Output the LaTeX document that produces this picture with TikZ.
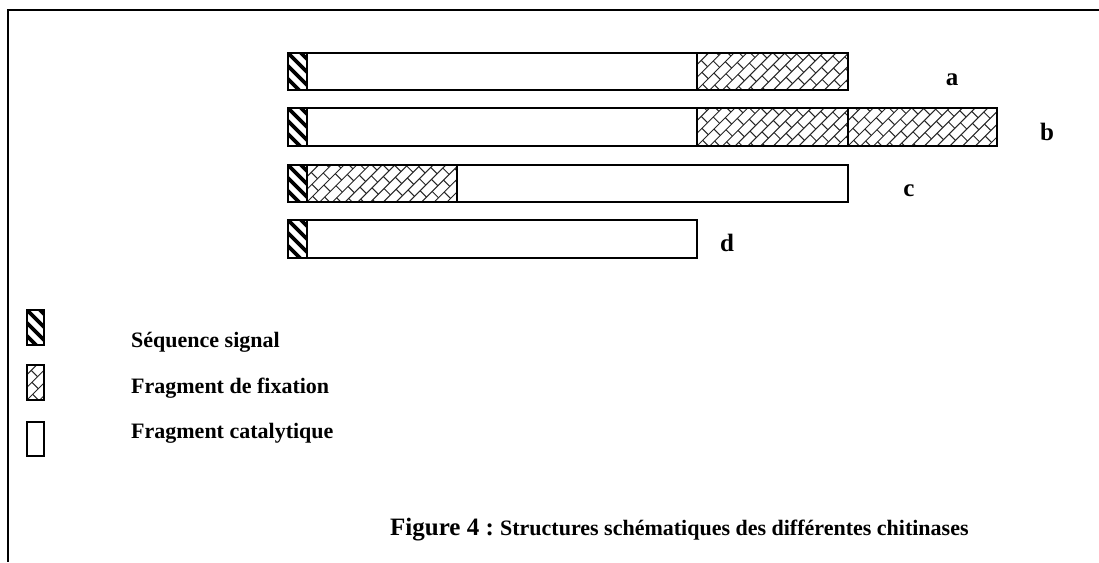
\documentclass[tikz,border=0pt]{standalone}
\usepackage{fontspec}
\setmainfont{Liberation Serif}
\tikzset{
  frameline/.style={line width=1.6pt},
  barline/.style={line width=1.6pt},
  stripe/.style={line width=3.6pt},
  brickline/.style={line width=1pt, black!85},
  lbl/.style={font=\bfseries\fontsize{25}{29}\selectfont, anchor=base},
  legtxt/.style={font=\bfseries\fontsize{22}{26}\selectfont, anchor=base west, inner sep=0pt},
}
\newcommand{\sigfill}[4]{%
  \begin{scope}
    \clip (#1,#2) rectangle (#3,#4);
    \foreach \k in {-5,...,6}{
      \draw[stripe] (#1-10,#2-\k*13+10) -- ++(70,-70);
    }
  \end{scope}}
\newcommand{\brickfill}[4]{%
  \begin{scope}
    \clip (#1,#2) rectangle (#3,#4);
    \begin{scope}[shift={(#1,#4)},rotate=45]
      \foreach \j in {-14,...,4}{
        \draw[brickline] (-10,\j*9) -- (170,\j*9);
        \pgfmathsetmacro{\off}{mod(\j+100,2)*8}
        \foreach \i in {-1,...,11}{
          \draw[brickline] (\i*16+\off,\j*9) -- ++(0,9);
        }
      }
    \end{scope}
  \end{scope}}
\begin{document}
\begin{tikzpicture}[x=1pt,y=1pt]
\useasboundingbox (0,0) rectangle (1099,-562);
% frame
\draw[frameline] (1099,-10) -- (8,-10) -- (8,-562);
% bar a
\sigfill{288}{-53}{307}{-90}
\brickfill{697}{-53}{848}{-90}
\draw[barline] (288,-53) rectangle (848,-90);
\draw[barline] (307,-53) -- (307,-90);
\draw[barline] (697,-53) -- (697,-90);
% bar b
\sigfill{288}{-108}{307}{-146}
\brickfill{697}{-108}{848}{-146}
\brickfill{848}{-108}{997}{-146}
\draw[barline] (288,-108) rectangle (997,-146);
\draw[barline] (307,-108) -- (307,-146);
\draw[barline] (697,-108) -- (697,-146);
\draw[barline] (848,-108) -- (848,-146);
% bar c
\sigfill{288}{-165}{307}{-202}
\brickfill{307}{-165}{457}{-202}
\draw[barline] (288,-165) rectangle (848,-202);
\draw[barline] (307,-165) -- (307,-202);
\draw[barline] (457,-165) -- (457,-202);
% bar d
\sigfill{288}{-220}{307}{-258}
\draw[barline] (288,-220) rectangle (697,-258);
\draw[barline] (307,-220) -- (307,-258);
% labels
\node[lbl] (la) at (952,-85) {a};
\node[lbl] (lb) at (1047,-140) {b};
\node[lbl] (lc) at (909,-196) {c};
\node[lbl] (ld) at (727,-251) {d};
% legend
\sigfill{27}{-310}{44}{-345}
\draw[barline] (27,-310) rectangle (44,-345);
\brickfill{27}{-365}{44}{-400}
\draw[line width=1.2pt] (27,-365) rectangle (44,-400);
\draw[line width=1.2pt] (27,-422) rectangle (44,-456);
\node[legtxt] (t1) at (131,-347) {Séquence signal};
\node[legtxt] (t2) at (131,-393) {Fragment de fixation};
\node[legtxt] (t3) at (131,-438) {Fragment catalytique};
% caption
\node[anchor=base west, inner sep=0pt] (cap) at (390,-535) {\bfseries\fontsize{25}{29}\selectfont Figure 4 :\ \fontsize{22}{26}\selectfont Structures schématiques des différentes chitinases};
\end{tikzpicture}
\end{document}
